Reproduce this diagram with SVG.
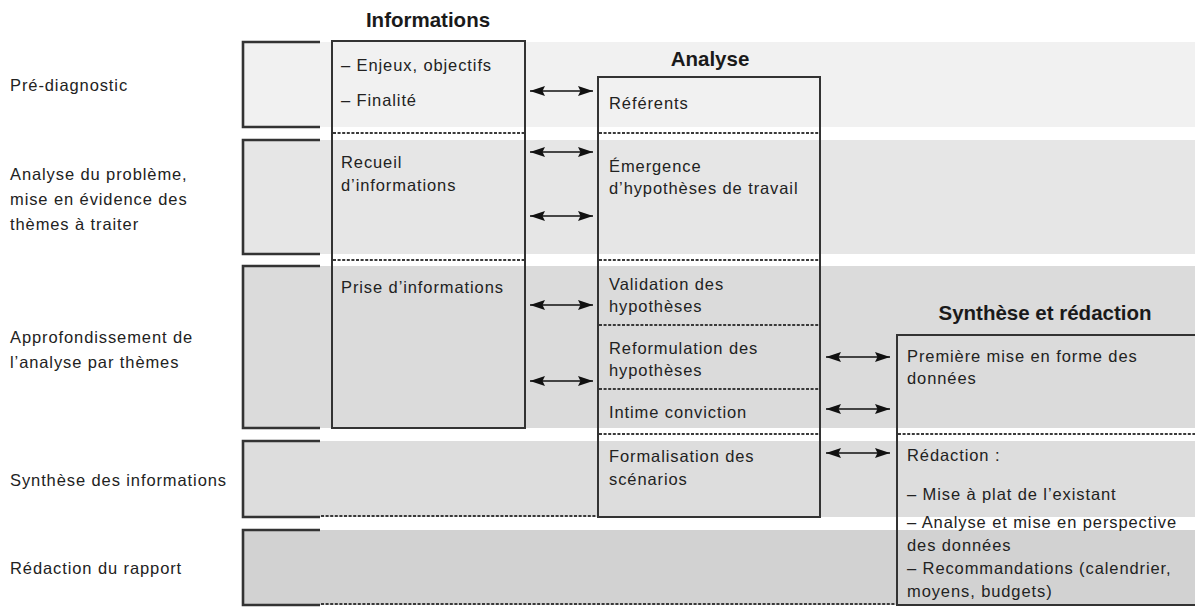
<svg xmlns="http://www.w3.org/2000/svg" width="1195" height="608" viewBox="0 0 1195 608">
<style>
text{font-family:"Liberation Sans",Arial,sans-serif;fill:#222}
.t{font-size:16.5px;letter-spacing:0.9px}
.h{font-size:20.5px;font-weight:bold;text-anchor:middle;fill:#1a1a1a}
.br{fill:none;stroke:#333;stroke-width:2.6}
.box{fill:none;stroke:#333;stroke-width:2}
.dash{stroke:#3a3a3a;stroke-width:1.8;stroke-dasharray:3 1.6;fill:none}
.arr{stroke:#111;stroke-width:1.4;marker-start:url(#ah);marker-end:url(#ah)}
</style>
<defs>
<marker id="ah" viewBox="0 0 15 11" refX="15" refY="5.5" markerWidth="15" markerHeight="11" markerUnits="userSpaceOnUse" orient="auto-start-reverse">
<path d="M0,0.5 L15,5.5 L0,10.5 L2.5,5.5 Z" fill="#111"/>
</marker>
</defs>
<rect width="1195" height="608" fill="#fff"/>
<g id="bands">
<rect x="242" y="42" width="953" height="85" fill="#f1f1f1"/>
<rect x="242" y="140" width="953" height="114" fill="#e6e6e6"/>
<rect x="242" y="266" width="953" height="162" fill="#dbdbdb"/>
<rect x="242" y="441" width="953" height="76" fill="#dddddd"/>
<rect x="242" y="530" width="953" height="75" fill="#d2d2d2"/>
</g>
<g id="phases">
<g id="phase-prediagnostic">
<path class="br" d="M320,42 H243 V127 H320"/>
<text class="t" x="10" y="91">Pré-diagnostic</text>
</g>
<g id="phase-analyse">
<path class="br" d="M320,140 H243 V254 H320"/>
<text class="t" x="10" y="180">Analyse du problème,</text>
<text class="t" x="10" y="205">mise en évidence des</text>
<text class="t" x="10" y="230">thèmes à traiter</text>
</g>
<g id="phase-approfondissement">
<path class="br" d="M320,266 H243 V428 H320"/>
<text class="t" x="10" y="343">Approfondissement de</text>
<text class="t" x="10" y="368">l’analyse par thèmes</text>
</g>
<g id="phase-synthese">
<path class="br" d="M320,441 H243 V517 H320"/>
<text class="t" x="10" y="486">Synthèse des informations</text>
</g>
<g id="phase-redaction">
<path class="br" d="M320,530 H243 V605 H320"/>
<text class="t" x="10" y="574">Rédaction du rapport</text>
</g>
</g>
<g id="informations">
<text class="h" x="428" y="27">Informations</text>
<rect class="box" x="332" y="41" width="193" height="387"/>
<line class="dash" x1="333" y1="133" x2="524" y2="133"/>
<line class="dash" x1="333" y1="260" x2="524" y2="260"/>
<text class="t" x="341" y="71">– Enjeux, objectifs</text>
<text class="t" x="341" y="106">– Finalité</text>
<text class="t" x="341" y="168">Recueil</text>
<text class="t" x="341" y="191">d’informations</text>
<text class="t" x="341" y="293">Prise d’informations</text>
</g>
<g id="analyse">
<text class="h" x="710" y="66">Analyse</text>
<rect class="box" x="598" y="77" width="222" height="440"/>
<line class="dash" x1="599" y1="133" x2="819" y2="133"/>
<line class="dash" x1="599" y1="260" x2="819" y2="260"/>
<line class="dash" x1="599" y1="325" x2="819" y2="325"/>
<line class="dash" x1="599" y1="389" x2="819" y2="389"/>
<line class="dash" x1="599" y1="434" x2="819" y2="434"/>
<text class="t" x="609" y="109">Référents</text>
<text class="t" x="609" y="172">Émergence</text>
<text class="t" x="609" y="194">d’hypothèses de travail</text>
<text class="t" x="609" y="290">Validation des</text>
<text class="t" x="609" y="312">hypothèses</text>
<text class="t" x="609" y="354">Reformulation des</text>
<text class="t" x="609" y="376">hypothèses</text>
<text class="t" x="609" y="418">Intime conviction</text>
<text class="t" x="609" y="462">Formalisation des</text>
<text class="t" x="609" y="485">scénarios</text>
</g>
<g id="synthese">
<text class="h" x="1045" y="320">Synthèse et rédaction</text>
<path class="box" d="M1197,335 H897 V605 H1197"/>
<line class="dash" x1="898" y1="434" x2="1195" y2="434"/>
<text class="t" x="907" y="362">Première mise en forme des</text>
<text class="t" x="907" y="384">données</text>
<text class="t" x="907" y="461">Rédaction :</text>
<text class="t" x="907" y="500">– Mise à plat de l’existant</text>
<text class="t" x="907" y="528">– Analyse et mise en perspective</text>
<text class="t" x="907" y="551">des données</text>
<text class="t" x="907" y="574">– Recommandations (calendrier,</text>
<text class="t" x="907" y="597">moyens, budgets)</text>
</g>
<g id="separators">
<line class="dash" x1="321" y1="516" x2="597" y2="516"/>
<line class="dash" x1="321" y1="604" x2="896" y2="604"/>
</g>
<g id="connectors">
<line class="arr" x1="530" y1="91" x2="593" y2="91"/>
<line class="arr" x1="530" y1="152" x2="593" y2="152"/>
<line class="arr" x1="530" y1="216" x2="593" y2="216"/>
<line class="arr" x1="530" y1="305" x2="593" y2="305"/>
<line class="arr" x1="530" y1="381" x2="593" y2="381"/>
<line class="arr" x1="826" y1="357" x2="890" y2="357"/>
<line class="arr" x1="826" y1="409" x2="890" y2="409"/>
<line class="arr" x1="826" y1="453" x2="890" y2="453"/>
</g>
</svg>
